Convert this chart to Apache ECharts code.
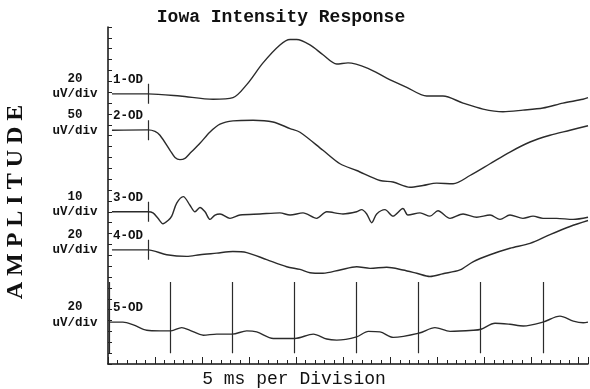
<!DOCTYPE html>
<html>
<head>
<meta charset="utf-8">
<title>Iowa Intensity Response</title>
<script src="https://cdn.jsdelivr.net/npm/echarts@6/dist/echarts.min.js"></script>
<style>
  html, body { margin: 0; padding: 0; background: #fff; }
  #main { width: 590px; height: 389px; }
</style>
</head>
<body>
<div id="main"></div>
<script>
// Recording labels, amplifier scales (uV per division) and trace baselines (divisions from the bottom)
const traceNames = ['1-OD', '2-OD', '3-OD', '4-OD', '5-OD'];
const scales = [20, 50, 10, 20, 20];
const baselines = [24.85, 21.5, 14.0, 10.5, 3.85];

// Stimulus onset (ms) and the flash markers drawn across the flicker trace (ms)
const stimulusTime = 4.25;
const flashTimes = [0.1, 6.6, 13.2, 19.8, 26.4, 33.0, 39.6, 46.2];
const flashSpan = [1.0, 7.55];

// Trace 1-OD: time (ms) and amplitude (uV)
const t1 = [0.42, 4.25, 7.65, 11.16, 13.28, 14.74, 16.47, 18.27, 19.34, 20.05, 21.46, 22.84, 24.30, 25.50, 27.62, 29.61, 31.74, 33.86, 35.59, 37.72, 39.84, 41.97, 44.09, 46.22, 48.34, 50.47, 51];
const v1 = [0, 0, -4, -10, -7, 17, 57, 90, 100, 100, 90, 72, 55, 57, 47, 29, 12, -4, -4, -17, -28, -33, -30, -26, -17, -10, -7];

// Trace 2-OD
const t2 = [0.42, 4.25, 4.99, 5.52, 6.59, 7.12, 7.65, 8.18, 8.71, 9.77, 10.84, 11.90, 13.28, 15.41, 17.53, 19.34, 20.40, 22.84, 24.65, 26.42, 28.90, 30.28, 32.09, 33.47, 34.92, 36.66, 38.46, 40.59, 42.71, 44.84, 46.96, 49.09, 51];
const v2 = [0, 2, -5, -23, -92, -125, -135, -129, -106, -60, -8, 28, 43, 46, 38, 8, -9, -92, -154, -185, -231, -238, -262, -254, -243, -246, -208, -154, -100, -54, -23, 0, 21];

// Trace 3-OD
const t3 = [0.42, 4.25, 4.78, 5.31, 5.84, 6.38, 6.77, 7.30, 8.00, 8.71, 9.24, 9.77, 10.31, 10.84, 11.37, 11.90, 12.96, 14.02, 16.15, 18.27, 19.34, 20.72, 22.17, 23.24, 24.97, 26.42, 26.95, 27.49, 28.02, 28.55, 29.43, 30.28, 31.34, 31.87, 33.15, 34.21, 35.06, 36.34, 37.72, 39.17, 40.59, 41.65, 42.71, 44.09, 45.16, 46.22, 47.67, 49.41, 51];
const v3 = [0, 0, -1, -6, -11, -8, -4, 8, 14, 6, 0, 4, 0, -7, -3, -2, -6, -3, -2, -1, -3, -1, -6, 0, -2, 0, 2, -2, -10, -2, 2, -4, 3, -3, -1, -4, 1, -6, -2, -5, -3, -7, -3, -6, -4, -6, -6, -7, -5];

// Trace 4-OD
const t4 = [0.42, 4.25, 6.24, 8.36, 9.77, 11.55, 13.28, 14.74, 16.86, 18.99, 20.40, 21.46, 22.84, 24.65, 26.42, 27.84, 29.61, 31.34, 32.80, 34.21, 35.59, 37.40, 38.78, 40.59, 42.71, 44.84, 46.96, 49.09, 51];
const v4 = [0, 0, -9, -12, -9, -6, -3, -5, -18, -31, -36, -42, -43, -37, -31, -34, -32, -37, -43, -49, -44, -37, -22, -9, 3, 12, 28, 43, 54];

// Trace 5-OD (flicker)
const t5 = [0.21, 1.59, 2.69, 4.11, 5.52, 6.69, 7.83, 8.71, 10.13, 11.55, 13.21, 14.74, 15.80, 17.56, 18.99, 19.87, 21.81, 23.24, 24.30, 26.42, 27.66, 28.90, 30.31, 33.08, 34.74, 36.34, 38.81, 39.63, 41.12, 42.71, 44.12, 46.19, 48.02, 49.44, 50.50, 51];
const v5 = [0, 0, -5, -15, -16, -16, -10, -15, -24, -22, -22, -16, -18, -30, -30, -30, -22, -31, -33, -27, -17, -18, -28, -20, -10, -17, -15, -13, -2, -4, -7, 0, 11, 2, -1, 0];

const times = [t1, t2, t3, t4, t5];
const values = [v1, v2, v3, v4, v5];

const INK = '#2b2b2b';
const MONO = '"Liberation Mono", "DejaVu Sans Mono", monospace';

// Each trace is placed on the shared division scale: baseline + uV / (uV per div)
const traceSeries = times.map((t, i) => ({
  type: 'line',
  name: traceNames[i],
  showSymbol: false,
  smooth: 0.3,
  silent: true,
  lineStyle: { color: INK, width: 1.4 },
  data: t.map((x, k) => [x, baselines[i] + values[i][k] / scales[i]])
}));

// Short vertical stimulus marks on traces 1-4
const stimulusSeries = {
  type: 'lines',
  coordinateSystem: 'cartesian2d',
  silent: true,
  lineStyle: { color: INK, width: 1.2, opacity: 1 },
  data: baselines.slice(0, 4).map(b => ({ coords: [[stimulusTime, b - 0.92], [stimulusTime, b + 0.92]] }))
};

// Flash markers crossing the flicker trace
const flashSeries = {
  type: 'lines',
  coordinateSystem: 'cartesian2d',
  silent: true,
  lineStyle: { color: INK, width: 1.2, opacity: 1 },
  data: flashTimes.map(x => ({ coords: [[x, flashSpan[0]], [x, flashSpan[1]]] }))
};

const chart = echarts.init(document.getElementById('main'));

chart.setOption({
  animation: false,
  backgroundColor: '#ffffff',
  grid: { left: 108, right: 2, top: 27, bottom: 25 },
  xAxis: {
    type: 'value',
    min: 0,
    max: 51,
    interval: 5,
    axisLine: { show: true, lineStyle: { color: '#111', width: 1.5 } },
    axisTick: { show: true, inside: true, length: 7, lineStyle: { color: '#222', width: 1 } },
    minorTick: { show: true, splitNumber: 5, length: 4, lineStyle: { color: '#222', width: 1 } },
    axisLabel: { show: false },
    splitLine: { show: false }
  },
  yAxis: {
    type: 'value',
    min: 0,
    max: 31,
    interval: 1,
    axisLine: { show: true, lineStyle: { color: '#111', width: 1.5 } },
    axisTick: { show: true, inside: true, length: 4, lineStyle: { color: '#222', width: 1 } },
    axisLabel: { show: false },
    splitLine: { show: false }
  },
  series: traceSeries.concat([stimulusSeries, flashSeries])
});

// Text: title, axis names, per-trace gain and recording labels
const graphics = [
  {
    type: 'text', x: 281, y: 17,
    style: { text: 'Iowa Intensity Response', font: 'bold 18px ' + MONO, fill: '#111', align: 'center', verticalAlign: 'middle' }
  },
  {
    type: 'text', x: 294, y: 379,
    style: { text: '5 ms per Division', font: '18px ' + MONO, fill: '#111', align: 'center', verticalAlign: 'middle' }
  },
  {
    type: 'text', x: 16, y: 202, rotation: Math.PI / 2,
    style: { text: 'A M P L I T U D E', font: 'bold 24px "Liberation Serif", "DejaVu Serif", serif', fill: '#111', align: 'center', verticalAlign: 'middle' }
  }
];

baselines.forEach((b, i) => {
  const p = chart.convertToPixel({ gridIndex: 0 }, [0, b]);
  graphics.push({
    type: 'text', x: p[0] - 33, y: p[1] - 7.3,
    style: { text: scales[i] + '\nuV/div', font: 'bold 12.5px ' + MONO, lineHeight: 15.5, fill: '#111', align: 'center', verticalAlign: 'middle' }
  });
  graphics.push({
    type: 'text', x: p[0] + 5, y: p[1] - 14,
    style: { text: traceNames[i], font: 'bold 12.5px ' + MONO, fill: '#111', align: 'left', verticalAlign: 'middle' }
  });
});

chart.setOption({ graphic: graphics });
</script>
</body>
</html>
